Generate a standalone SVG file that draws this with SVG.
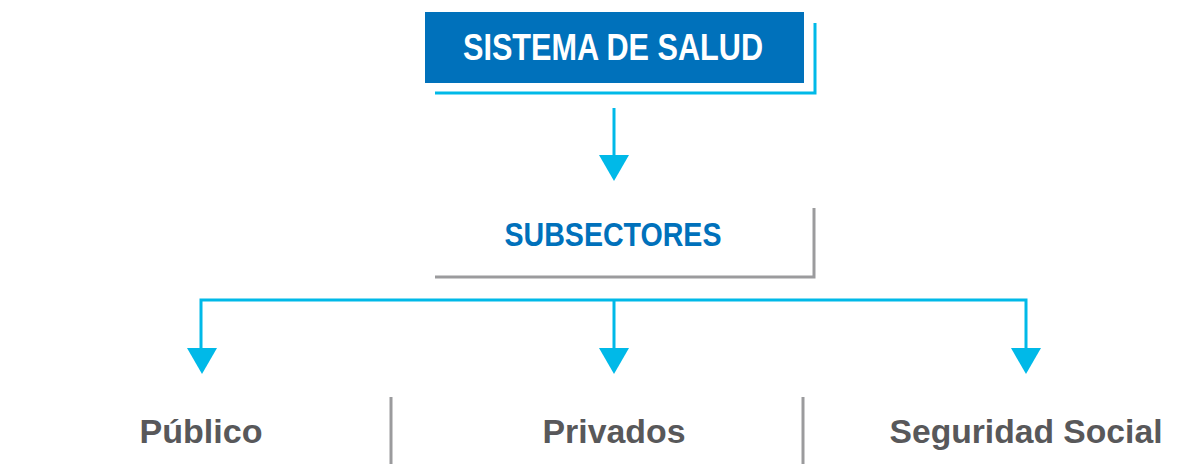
<svg xmlns="http://www.w3.org/2000/svg" width="1204" height="464" viewBox="0 0 1204 464">
<defs>
<style>
.t{font-family:"Liberation Sans","DejaVu Sans",sans-serif;font-weight:bold;text-anchor:middle}
.w{fill:#ffffff;font-size:36px}
.b{fill:#0071BB;font-size:34px}
.g{fill:#58585A;font-size:33px}
.cy{stroke:#00B9E8;stroke-width:3;fill:none}
.gr{stroke:#9B9B9D;stroke-width:3;fill:none}
.ah{fill:#00B9E8}
</style>
</defs>
<rect width="1204" height="464" fill="#ffffff"/>
<g id="sistema">
<polyline class="cy" points="435,93 815,93 815,23"/>
<rect x="425" y="12" width="379" height="71" fill="#0071BB"/>
<text class="t w" x="613" y="60" textLength="300" lengthAdjust="spacingAndGlyphs">SISTEMA DE SALUD</text>
</g>
<g id="subsectores">
<polyline class="gr" points="435,277 814,277 814,208"/>
<text class="t b" x="613" y="246" textLength="217" lengthAdjust="spacingAndGlyphs">SUBSECTORES</text>
</g>
<g id="publico">
<text class="t g" x="201" y="443" textLength="123" lengthAdjust="spacingAndGlyphs">Público</text>
</g>
<g id="privados">
<text class="t g" x="614" y="443" textLength="143" lengthAdjust="spacingAndGlyphs">Privados</text>
</g>
<g id="seguridad">
<text class="t g" x="1026" y="443" textLength="273" lengthAdjust="spacingAndGlyphs">Seguridad Social</text>
</g>
<g id="dividers">
<line class="gr" x1="391" y1="397" x2="391" y2="464"/>
<line class="gr" x1="803" y1="397" x2="803" y2="464"/>
</g>
<g id="connectors">
<line class="cy" x1="614" y1="108" x2="614" y2="157"/>
<polygon class="ah" points="599,155 629,155 614,181"/>
<polyline class="cy" points="201,350 201,300 1026,300 1026,350"/>
<line class="cy" x1="614" y1="300" x2="614" y2="350"/>
<polygon class="ah" points="187,348 217,348 202,374"/>
<polygon class="ah" points="599,348 629,348 614,374"/>
<polygon class="ah" points="1011,348 1041,348 1026,374"/>
</g>
</svg>
